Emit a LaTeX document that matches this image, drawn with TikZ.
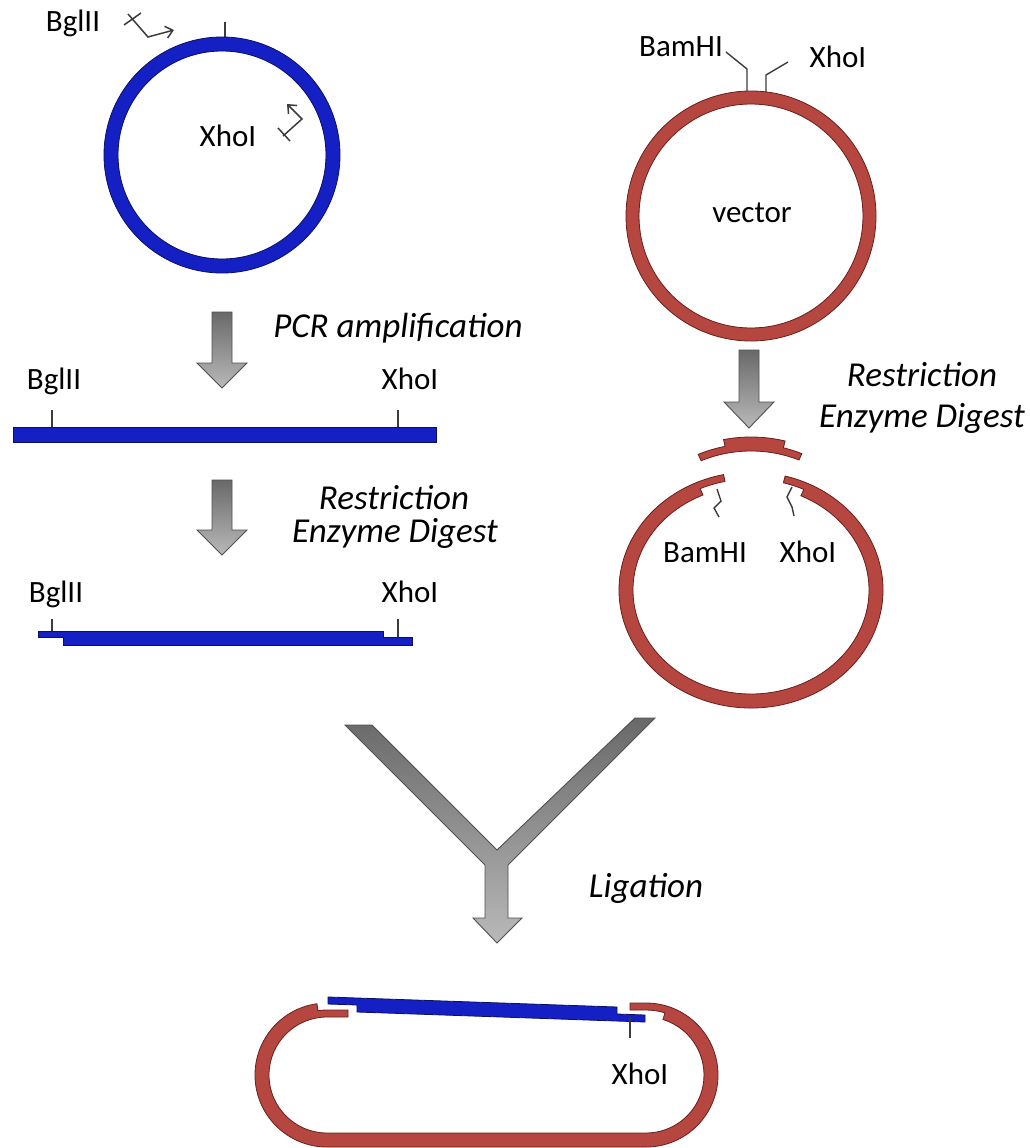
\documentclass[tikz,border=0pt]{standalone}
\usepackage{fontspec}
\setmainfont{Carlito}
\usetikzlibrary{arrows.meta,calc}
\definecolor{dnablue}{RGB}{20,32,196}
\definecolor{dnablueline}{RGB}{10,16,100}
\definecolor{vecred}{RGB}{182,70,64}
\definecolor{vecredline}{RGB}{105,32,28}
\definecolor{arrtop}{RGB}{105,105,105}
\definecolor{arrbot}{RGB}{185,185,185}
\definecolor{arrline}{RGB}{80,80,80}
\definecolor{tickgray}{RGB}{60,60,60}
\newcommand{\dnarrow}[4]{%
  \path[grayarrow] (#1-10,#2) -- (#1+10,#2) -- (#1+10,#3) -- (#1+25,#3) -- (#1,#4) -- (#1-25,#3) -- (#1-10,#3) -- cycle;}
\begin{document}
\begin{tikzpicture}[x=1pt,y=-1pt,
  lbl/.style={font=\fontsize{31}{35}\selectfont, text height=0.7em, text depth=0.2em, inner sep=0pt, yshift=-7pt},
  steplbl/.style={font=\fontsize{35}{40}\selectfont\itshape, inner sep=0pt, text height=0.7em, text depth=0.2em, yshift=-7pt},
  bluedna/.style={fill=dnablue, draw=dnablueline, line width=0.8pt},
  reddna/.style={fill=vecred, draw=vecredline, line width=0.8pt},
  grayarrow/.style={top color=arrtop, bottom color=arrbot, draw=arrline, line width=0.9pt, line join=miter},
  sitetick/.style={draw=tickgray, line width=1.4pt},
  primer/.style={draw=tickgray, line width=1.5pt, line join=miter}
]
\useasboundingbox[fill=white] (0,0) rectangle (1030,1148);

% ---------- top-left plasmid ----------
\draw[sitetick] (225,38) -- (225,22);
\path[bluedna, even odd rule] (222,155) circle[radius=118] (222,155) circle[radius=104];
\draw[primer, -{Straight Barb[length=7pt,width=12pt]}] (128,14) -- (148,37) -- (174,30);
\draw[primer] (124,25) -- (141,13);
\draw[primer, -{Straight Barb[length=7pt,width=12pt]}] (283,136) -- (302,119) -- (287,104);
\draw[primer] (278,128) -- (290,141);
\node[lbl] (bgl1) at (73,22) {BglII};
\node[lbl] (xho1) at (228,137) {XhoI};

% ---------- top-right vector ----------
\draw[sitetick] (747,92) -- (747,69) -- (726,52);
\draw[sitetick] (766,92) -- (766,75) -- (788,62);
\path[reddna, even odd rule] (751,216) circle[radius=125] (751,216) circle[radius=112];
\node[lbl] (bam1) at (681,47) {BamHI};
\node[lbl] (xho2) at (838,58) {XhoI};
\node[lbl] (vec) at (752,213) {vector};

% ---------- PCR step ----------
\dnarrow{222}{312}{363}{388}
\node[steplbl] (pcr) at (398,328) {PCR amplification};
\draw[sitetick] (52,410) -- (52,427);
\draw[sitetick] (398,410) -- (398,427);
\path[bluedna] (13,427) rectangle (436,442);
\node[lbl] (bgl2) at (54,380) {BglII};
\node[lbl] (xho3) at (410,380) {XhoI};

% ---------- digest of insert ----------
\dnarrow{222}{480}{530}{555}
\node[steplbl] (rest1) at (394,500) {Restriction};
\node[steplbl] (enz1) at (395,533) {Enzyme Digest};
\draw[sitetick] (52,619) -- (52,631);
\draw[sitetick] (398,619) -- (398,637);
\path[bluedna] (38,631) -- (383,631) -- (383,637) -- (412,637) -- (412,645) -- (63,645) -- (63,637) -- (38,637) -- cycle;
\node[lbl] (bgl3) at (56,593) {BglII};
\node[lbl] (xho4) at (410,593) {XhoI};

% ---------- digest of vector ----------
\dnarrow{749}{350}{402}{428}
\node[steplbl] (rest2) at (922,377) {Restriction};
\node[steplbl] (enz2) at (922,418) {Enzyme Digest};
% excised piece
\begin{scope}[shift={(751,555)}]
\path[reddna] (-115:118 and 104) arc[start angle=-115, end angle=-66, x radius=118, y radius=104]
  -- (-66:125 and 111) arc[start angle=-66, end angle=-75, x radius=125, y radius=111]
  -- (-75:132 and 118) arc[start angle=-75, end angle=-102, x radius=132, y radius=118]
  -- (-102:125 and 111) arc[start angle=-102, end angle=-115, x radius=125, y radius=111]
  -- cycle;
\end{scope}
% opened vector
\draw[sitetick] (717,489) -- (721,501) -- (714,508) -- (719,517);
\draw[sitetick] (792,487) -- (787,497) -- (792,507) -- (794,516);
\begin{scope}[shift={(751,590)}]
\path[reddna] (-75:132 and 118) arc[start angle=-75, end angle=258, x radius=132, y radius=118]
  -- (258:125 and 111) arc[start angle=258, end angle=246, x radius=125, y radius=111]
  -- (246:118 and 104) arc[start angle=246, end angle=-65, x radius=118, y radius=104]
  -- (-65:125 and 111) arc[start angle=-65, end angle=-75, x radius=125, y radius=111]
  -- cycle;
\end{scope}
\node[lbl] (bam2) at (705,553) {BamHI};
\node[lbl] (xho5) at (808,553) {XhoI};

% ---------- ligation ----------
\path[grayarrow] (345,725) -- (372,725) -- (497,850) -- (635,718) -- (655,718) -- (508,865)
  -- (508,918) -- (522,918) -- (497,943) -- (473,918) -- (485,918) -- (485,865) -- cycle;
\node[steplbl] (lig) at (646,888) {Ligation};

% ---------- recombinant ----------
\path[reddna] ($(327,1075)+(-98:72)$) arc[start angle=-98, end angle=-270, radius=72]
  -- (646,1147) arc[start angle=90, end angle=-90, radius=72]
  -- (630,1003) -- (630,1010) -- (646,1010) arc[start angle=-90, end angle=-73, radius=65]
  -- ($(646,1075)+(-73:58)$) arc[start angle=-73, end angle=90, radius=58]
  -- (327,1133) arc[start angle=90, end angle=270, radius=58]
  -- (348,1017) -- (348,1010) -- (327,1010) arc[start angle=270, end angle=262, radius=65]
  -- cycle;
\path[bluedna] (328,997) -- (617,1007) -- (617,1014) -- (645,1015) -- (645,1022) -- (357,1012) -- (357,1005) -- (328,1004) -- cycle;
\draw[sitetick] (630,1018) -- (630,1038);
\node[lbl] (xho6) at (640,1075) {XhoI};
\end{tikzpicture}
\end{document}
